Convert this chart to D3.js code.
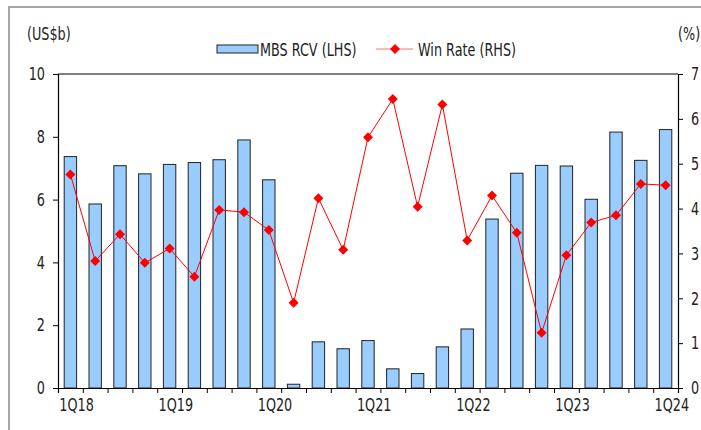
<!DOCTYPE html>
<html>
<head>
<meta charset="utf-8">
<script src="https://cdn.jsdelivr.net/npm/d3@7"></script>
<style>
  body { margin: 0; background: #fff; }
  svg text { font-family: "Liberation Sans Narrow", "DejaVu Sans", sans-serif; font-stretch: condensed; fill: #222; }
  .tick text { font-size: 18px; }
</style>
</head>
<body>
<div id="chart"></div>
<script>
// quarters 1Q18 .. 1Q24
var quarters = ["1Q18", "2Q18", "3Q18", "4Q18", "1Q19", "2Q19", "3Q19", "4Q19",
    "1Q20", "2Q20", "3Q20", "4Q20", "1Q21", "2Q21", "3Q21", "4Q21",
    "1Q22", "2Q22", "3Q22", "4Q22", "1Q23", "2Q23", "3Q23", "4Q23", "1Q24"];
// MBS RCV, US$b (LHS)
var mbsRcv = [7.37, 5.86, 7.08, 6.82, 7.12, 7.18, 7.27, 7.90,
    6.63, 0.12, 1.47, 1.25, 1.51, 0.61, 0.46, 1.31,
    1.88, 5.38, 6.84, 7.09, 7.07, 6.01, 8.15, 7.25, 8.23];
// win rate, % (RHS)
var winRate = [4.76, 2.83, 3.43, 2.79, 3.11, 2.48, 3.97, 3.92,
    3.52, 1.90, 4.23, 3.08, 5.59, 6.44, 4.04, 6.32,
    3.29, 4.29, 3.46, 1.23, 2.96, 3.69, 3.85, 4.55, 4.52];
var xLabels = ["1Q18", "1Q19", "1Q20", "1Q21", "1Q22", "1Q23", "1Q24"];
var leftTicks = [0, 2, 4, 6, 8, 10];
var rightTicks = [0, 1, 2, 3, 4, 5, 6, 7];

var width = 701, height = 430;
var plot = { left: 58, right: 678, top: 74, bottom: 388 };
var SQUEEZE = 0.79; // narrow the glyphs to look like the condensed original

var svg = d3.select("#chart").append("svg")
    .attr("width", width)
    .attr("height", height);

// outer grey frame
svg.append("rect")
    .attr("x", 9).attr("y", 7)
    .attr("width", 800).attr("height", 600)
    .attr("fill", "none")
    .attr("stroke", "#a6a6a6")
    .attr("stroke-width", 2);

var x = d3.scaleBand()
    .domain(quarters)
    .range([plot.left, plot.right])
    .paddingInner(0.5)
    .paddingOuter(0.25);

var xTick = d3.scaleLinear()
    .domain([0, quarters.length])
    .range([plot.left, plot.right]);

var yL = d3.scaleLinear().domain([0, 10]).range([plot.bottom, plot.top]);
var yR = d3.scaleLinear().domain([0, 7]).range([plot.bottom, plot.top]);

// bars
svg.append("g").selectAll("rect")
    .data(mbsRcv)
    .enter().append("rect")
    .attr("x", function (d, i) { return x(quarters[i]); })
    .attr("width", x.bandwidth())
    .attr("y", function (d) { return yL(d); })
    .attr("height", function (d) { return yL(0) - yL(d); })
    .attr("fill", "#99ccff")
    .attr("stroke", "#222")
    .attr("stroke-width", 1);

// plot box top line
svg.append("line")
    .attr("x1", plot.left).attr("x2", plot.right)
    .attr("y1", plot.top).attr("y2", plot.top)
    .attr("stroke", "#000");

// axes
var axL = svg.append("g")
    .attr("transform", "translate(" + plot.left + ",0)")
    .call(d3.axisLeft(yL).tickValues(leftTicks).tickFormat(d3.format("d"))
        .tickSize(5).tickPadding(8));

var axR = svg.append("g")
    .attr("transform", "translate(" + plot.right + ",0)")
    .call(d3.axisRight(yR).tickValues(rightTicks).tickFormat(d3.format("d"))
        .tickSize(5).tickPadding(8));

var axB = svg.append("g")
    .attr("transform", "translate(0," + plot.bottom + ")")
    .call(d3.axisBottom(xTick).tickValues(d3.range(quarters.length + 1))
        .tickSize(5).tickFormat(""));

var axBL = svg.append("g")
    .attr("transform", "translate(" + (x.bandwidth() / 2) + "," + plot.bottom + ")")
    .call(d3.axisBottom(x).tickValues(xLabels).tickSize(0).tickPadding(10));
axBL.select(".domain").remove();

[axL, axR, axB].forEach(function (a) {
    a.select(".domain").attr("stroke", "#000").attr("stroke-width", 1.2);
    a.selectAll(".tick line").attr("stroke", "#000");
});
svg.selectAll(".tick text").attr("fill", "#222");

// win rate line
var cx = function (i) { return x(quarters[i]) + x.bandwidth() / 2; };
svg.append("path")
    .datum(winRate)
    .attr("fill", "none")
    .attr("stroke", "#ff0000")
    .attr("stroke-width", 1)
    .attr("d", d3.line()
        .x(function (d, i) { return cx(i); })
        .y(function (d) { return yR(d); }));

var diamond = d3.symbol().type(d3.symbolSquare).size(50);
svg.append("g").selectAll("path")
    .data(winRate)
    .enter().append("path")
    .attr("d", diamond)
    .attr("transform", function (d, i) {
        return "translate(" + cx(i) + "," + yR(d) + ") rotate(45)";
    })
    .attr("fill", "#ff0000");

// axis unit labels
svg.append("text").text("(US$b)")
    .attr("x", 27).attr("y", 40)
    .style("font-size", "18px");
svg.append("text").text("(%)")
    .attr("x", 678).attr("y", 40)
    .style("font-size", "18px");

// legend
var lg = svg.append("g");
lg.append("rect")
    .attr("x", 217).attr("y", 45)
    .attr("width", 41).attr("height", 8)
    .attr("fill", "#99ccff")
    .attr("stroke", "#222");
lg.append("text").text("MBS RCV (LHS)")
    .attr("x", 260).attr("y", 56)
    .style("font-size", "18px");
lg.append("line")
    .attr("x1", 376).attr("x2", 413)
    .attr("y1", 49).attr("y2", 49)
    .attr("stroke", "#ff7070")
    .attr("stroke-width", 1.2);
lg.append("path")
    .attr("d", diamond)
    .attr("transform", "translate(395,49) rotate(45)")
    .attr("fill", "#ff0000");
lg.append("text").text("Win Rate (RHS)")
    .attr("x", 418).attr("y", 56)
    .style("font-size", "18px");

// squeeze every label horizontally around its anchor point
svg.selectAll("text").each(function () {
    var ax = +this.getAttribute("x") || 0;
    d3.select(this).attr("transform",
        "translate(" + ax + ",0) scale(" + SQUEEZE + ",1) translate(" + (-ax) + ",0)");
});
</script>
</body>
</html>
